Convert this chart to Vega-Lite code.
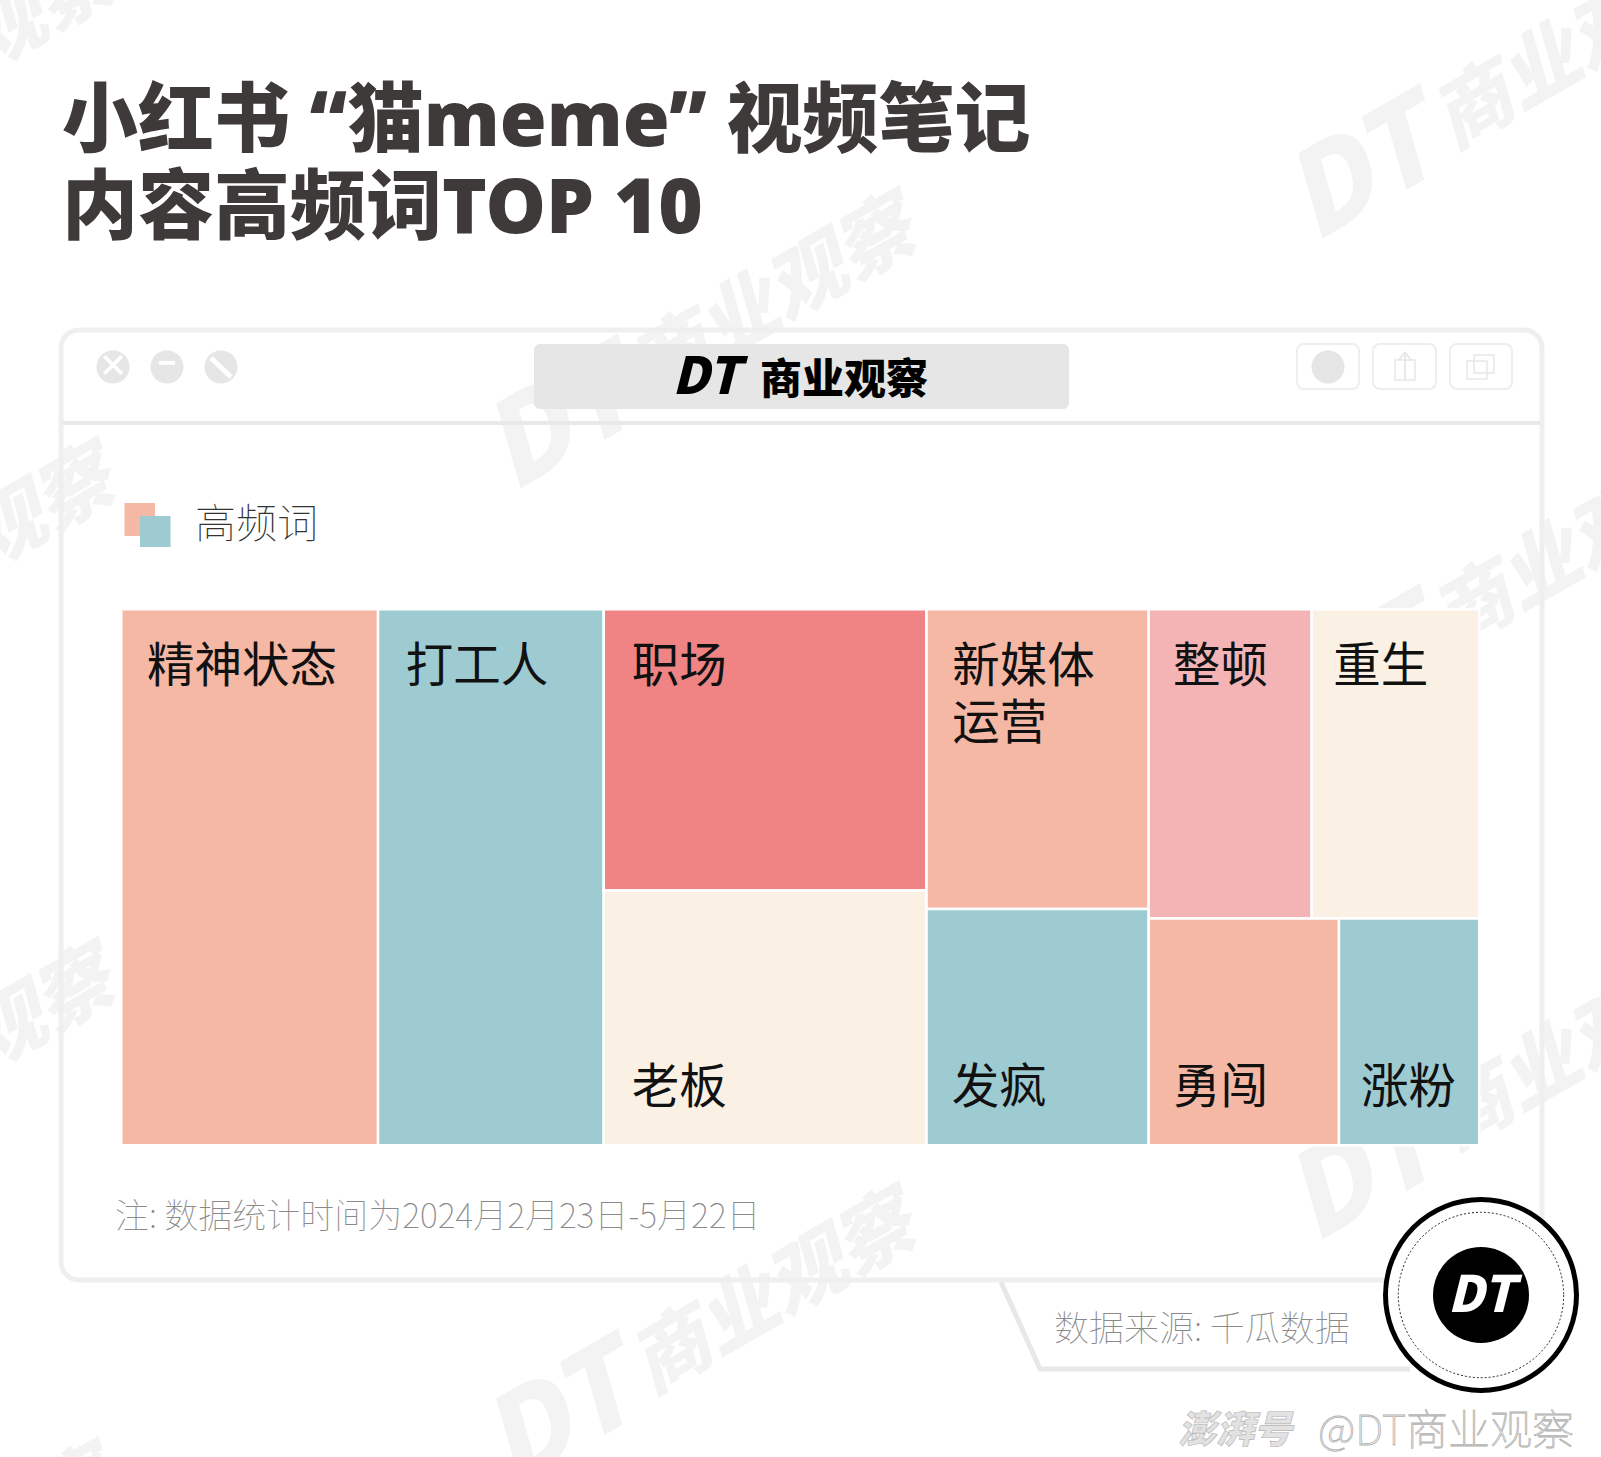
{
"$schema":"https://vega.github.io/schema/vega-lite/v6.json",
"width":1601,"height":1457,"padding":0,"autosize":{"type":"none"},"background":"white",
"config":{"view":{"stroke":null},"font":"Noto Sans CJK SC"},
"title":{"text":["小红书 “猫meme” 视频笔记","内容高频词TOP 10"],"anchor":"start","frame":"group","orient":"top","baseline":"alphabetic","align":"left","offset":-369,"dx":62,"font":"Noto Sans, Noto Sans CJK SC","fontSize":76,"fontWeight":900,"color":"#3e3a39","lineHeight":87},
"resolve":{"scale":{"x":"independent","y":"independent","color":"independent"}},
"layer":[
{"encoding":{"x":{"field":"x","type":"quantitative","axis":null,"scale":{"domain":[0,1601],"range":[0,1601]}},"y":{"field":"y","type":"quantitative","axis":null,"scale":{"domain":[0,1457],"range":[0,1457]}}},
"layer":[
{"data":{"name":"wm","values":[{"x":-97,"y":92},{"x":-97,"y":592},{"x":-97,"y":1093},{"x":-97,"y":1593},{"x":704,"y":342},{"x":704,"y":842},{"x":704,"y":1337},{"x":1506,"y":92},{"x":1506,"y":592},{"x":1506,"y":1093},{"x":1506,"y":1593}]},"mark":{"type":"text","text":"DT","dx":-165,"angle":-30,"align":"center","baseline":"middle","fontSize":115,"fontWeight":900,"fontStyle":"italic","color":"#f3f3f3"}},
{"data":{"name":"wm"},"mark":{"type":"text","text":"商业观察","dx":81,"angle":-30,"align":"center","baseline":"middle","fontSize":78,"fontWeight":900,"fontStyle":"italic","color":"#f3f3f3"}},
{"data":{"values":[{"x":61,"y":330,"x2":1542,"y2":1280}]},"mark":{"type":"rect","fill":"transparent","stroke":"#efefef","strokeWidth":5,"cornerRadius":18},"encoding":{"x2":{"field":"x2"},"y2":{"field":"y2"}}},
{"data":{"values":[{"x":62,"y":423,"x2":1540}]},"mark":{"type":"rule","stroke":"#e9e9e9","strokeWidth":4},"encoding":{"x2":{"field":"x2"}}},
{"data":{"values":[{"x":534,"y":344,"x2":1069,"y2":409}]},"mark":{"type":"rect","fill":"#e6e6e6","cornerRadius":6},"encoding":{"x2":{"field":"x2"},"y2":{"field":"y2"}}},
{"data":{"values":[{"x":672,"y":379}]},"mark":{"type":"text","text":"DT","align":"left","baseline":"middle","fontSize":51,"fontWeight":900,"fontStyle":"italic","color":"#000000"}},
{"data":{"values":[{"x":760,"y":381}]},"mark":{"type":"text","text":"商业观察","align":"left","baseline":"middle","fontSize":42,"fontWeight":900,"color":"#000000"}},
{"data":{"values":[{"x":113,"y":367},{"x":167,"y":367},{"x":221,"y":367},{"x":1328,"y":367}]},"mark":{"type":"point","shape":"circle","filled":true,"opacity":1,"size":1089,"color":"#e6e6e6"}},
{"data":{"values":[{"x":113,"y":367,"t":"×"},{"x":167,"y":365,"t":"−"}]},"mark":{"type":"text","align":"center","baseline":"middle","fontSize":30,"fontWeight":900,"color":"#ffffff"},"encoding":{"text":{"field":"t"}}},
{"data":{"values":[{"x":1405,"y":352,"x2":1405,"y2":380},{"x":1405,"y":352,"x2":1399,"y2":360},{"x":1405,"y":352,"x2":1411,"y2":360}]},"mark":{"type":"rule","stroke":"#e8e8e8","strokeWidth":2},"encoding":{"x2":{"field":"x2"},"y2":{"field":"y2"}}},
{"data":{"values":[{"x":211,"y":358,"x2":231,"y2":377}]},"mark":{"type":"rule","stroke":"#ffffff","strokeWidth":5},"encoding":{"x2":{"field":"x2"},"y2":{"field":"y2"}}},
{"data":{"values":[{"x":1297,"y":344,"x2":1359,"y2":389},{"x":1373,"y":344,"x2":1436,"y2":389},{"x":1450,"y":344,"x2":1512,"y2":389}]},"mark":{"type":"rect","fill":"transparent","stroke":"#eeeeee","strokeWidth":2,"cornerRadius":7},"encoding":{"x2":{"field":"x2"},"y2":{"field":"y2"}}},
{"data":{"values":[{"x":1395,"y":360,"x2":1415,"y2":380},{"x":1467,"y":361,"x2":1487,"y2":379},{"x":1474,"y":355,"x2":1494,"y2":373}]},"mark":{"type":"rect","fill":"transparent","stroke":"#e8e8e8","strokeWidth":1.5},"encoding":{"x2":{"field":"x2"},"y2":{"field":"y2"}}},
{"data":{"values":[{"x":124.5,"y":503,"x2":155,"y2":536}]},"mark":{"type":"rect","fill":"#f4b8a5"},"encoding":{"x2":{"field":"x2"},"y2":{"field":"y2"}}},
{"data":{"values":[{"x":140,"y":516,"x2":170.5,"y2":547}]},"mark":{"type":"rect","fill":"#9dcbd1"},"encoding":{"x2":{"field":"x2"},"y2":{"field":"y2"}}},
{"data":{"values":[{"x":195,"y":526}]},"mark":{"type":"text","text":"高频词","align":"left","baseline":"middle","fontSize":41,"fontWeight":100,"color":"#333333"}},
{"data":{"values":[{"x":115,"y":1218}]},"mark":{"type":"text","text":"注: 数据统计时间为2024月2月23日-5月22日","align":"left","baseline":"middle","fontSize":34,"fontWeight":100,"color":"#8a8a8a"}},
{"data":{"values":[{"x":1001,"y":1282},{"x":1040,"y":1369},{"x":1410,"y":1369}]},"mark":{"type":"line","stroke":"#e8e8e8","strokeWidth":5,"strokeJoin":"miter"}},
{"data":{"values":[{"x":1054,"y":1330}]},"mark":{"type":"text","text":"数据来源: 千瓜数据","align":"left","baseline":"middle","fontSize":35,"fontWeight":100,"color":"#8a8a8a"}},
{"data":{"values":[{"x":1481,"y":1295}]},"mark":{"type":"point","shape":"circle","filled":true,"opacity":1,"size":36481,"fill":"#ffffff","stroke":"#000000","strokeWidth":5}},
{"data":{"values":[{"x":1481,"y":1295}]},"mark":{"type":"point","shape":"circle","filled":false,"opacity":1,"size":27360,"stroke":"#222222","strokeWidth":1,"strokeDash":[2,2]}},
{"data":{"values":[{"x":1481,"y":1295}]},"mark":{"type":"point","shape":"circle","filled":true,"opacity":1,"size":9216,"color":"#000000"}},
{"data":{"values":[{"x":1481,"y":1297}]},"mark":{"type":"text","text":"DT","align":"center","baseline":"middle","fontSize":50,"fontWeight":900,"fontStyle":"italic","color":"#ffffff"}},
{"data":{"values":[{"x":1178,"y":1432}]},"mark":{"type":"text","text":"澎湃号","align":"left","baseline":"middle","fontSize":38,"fontWeight":900,"fontStyle":"italic","fill":"#e2e2e2","stroke":"#b5b5b5","strokeWidth":0.6}},
{"data":{"values":[{"x":1318,"y":1432}]},"mark":{"type":"text","text":"@DT商业观察","align":"left","baseline":"middle","fontSize":42,"fontWeight":100,"fill":"#ffffff","stroke":"#b0b0b0","strokeWidth":0.8}}
]},
{"data":{"values":[
{"word":"精神状态","label":"精神状态","x0":0,"x1":18.91,"y0":0,"y1":100,"lx":1.9,"ly":13.57},
{"word":"打工人","label":"打工人","x0":18.91,"x1":35.53,"y0":0,"y1":100,"lx":20.95,"ly":13.57},
{"word":"职场","label":"职场","x0":35.53,"x1":59.3,"y0":0,"y1":52.45,"lx":37.6,"ly":13.57},
{"word":"老板","label":"老板","x0":35.53,"x1":59.3,"y0":52.45,"y1":100,"lx":37.6,"ly":92.1},
{"word":"新媒体运营","label":"新媒体\n运营","x0":59.3,"x1":75.66,"y0":0,"y1":55.92,"lx":61.2,"ly":13.57},
{"word":"发疯","label":"发疯","x0":59.3,"x1":75.66,"y0":55.92,"y1":100,"lx":61.15,"ly":92.1},
{"word":"整顿","label":"整顿","x0":75.66,"x1":87.66,"y0":0,"y1":57.68,"lx":77.45,"ly":13.57},
{"word":"重生","label":"重生","x0":87.66,"x1":100,"y0":0,"y1":57.68,"lx":89.25,"ly":13.57},
{"word":"勇闯","label":"勇闯","x0":75.66,"x1":89.67,"y0":57.68,"y1":100,"lx":77.45,"ly":92.1},
{"word":"涨粉","label":"涨粉","x0":89.67,"x1":100,"y0":57.68,"y1":100,"lx":91.3,"ly":92.1}
]},
"layer":[
{"mark":{"type":"rect","stroke":"#ffffff","strokeWidth":2.5},"encoding":{
"x":{"field":"x0","type":"quantitative","axis":null,"scale":{"domain":[0,100],"range":[121.25,1479.25]}},"x2":{"field":"x1"},
"y":{"field":"y0","type":"quantitative","axis":null,"scale":{"domain":[0,100],"range":[609.25,1145.25]}},"y2":{"field":"y1"},
"color":{"field":"word","type":"nominal","legend":null,"scale":{"domain":["精神状态","打工人","职场","老板","新媒体运营","发疯","整顿","重生","勇闯","涨粉"],"range":["#f4b8a5","#9dcbd1","#f08484","#faf0e4","#f4b8a5","#9dcbd1","#f4b4b6","#faf0e4","#f4b8a5","#9dcbd1"]}}}},
{"mark":{"type":"text","align":"left","baseline":"alphabetic","fontSize":47.5,"lineBreak":"\n","lineHeight":57,"color":"#111111"},"encoding":{
"x":{"field":"lx","type":"quantitative","axis":null,"scale":{"domain":[0,100],"range":[121.25,1479.25]}},
"y":{"field":"ly","type":"quantitative","axis":null,"scale":{"domain":[0,100],"range":[609.25,1145.25]}},
"text":{"field":"label"}}}
]}
]
}
